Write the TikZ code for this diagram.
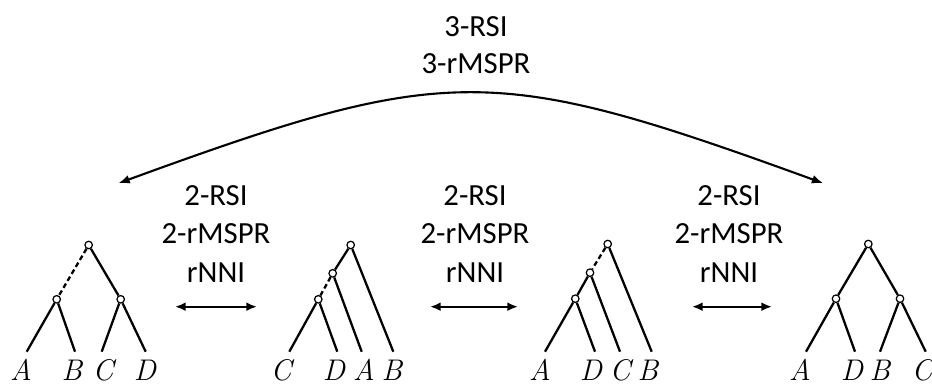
\documentclass[tikz,border=0pt]{standalone}
\usepackage{fontspec}
\newfontfamily\labelfont{Carlito}
\usetikzlibrary{arrows.meta}
\tikzset{
  opname/.style={font=\labelfont\fontsize{17.5}{21}\selectfont, anchor=base, inner sep=0pt},
  taxon/.style={font=\fontsize{17}{20}\selectfont\itshape, anchor=base, inner sep=0pt},
  vtx/.style={circle, draw, fill=white, line width=0.7pt, inner sep=0pt, minimum size=0.15cm},
  branch/.style={line width=1.3pt},
  dbranch/.style={line width=1.3pt, dash pattern=on 2.8pt off 1.8pt},
  swaparrow/.style={line width=1.3pt, {Latex[length=6pt,width=5pt]}-{Latex[length=6pt,width=5pt]}},
  bigarrow/.style={line width=1.2pt, {Latex[length=6.5pt,width=5pt]}-{Latex[length=6.5pt,width=5pt]}},
}
\begin{document}
\begin{tikzpicture}[x=0.02cm, y=-0.02cm]
\useasboundingbox (0,0) rectangle (932,391);

% ---------- tree 1: ((A,B),(C,D)) ----------
\node[vtx] (t1r) at (88.7,245) {};
\node[vtx] (t1l) at (56.7,299.3) {};
\node[vtx] (t1m) at (120.7,299.3) {};
\coordinate (t1A) at (26.7,351.7);
\coordinate (t1B) at (75,351.7);
\coordinate (t1C) at (101.7,351.7);
\coordinate (t1D) at (145.7,351.7);
\draw[dbranch] (t1r) -- (t1l);
\draw[branch] (t1r) -- (t1m);
\draw[branch] (t1l) -- (t1A);
\draw[branch] (t1l) -- (t1B);
\draw[branch] (t1m) -- (t1C);
\draw[branch] (t1m) -- (t1D);
\node[taxon] (t1a) at (21,380.5) {A};
\node[taxon] (t1b) at (72,380.5) {B};
\node[taxon] (t1c) at (103,380.5) {C};
\node[taxon] (t1d) at (145,380.5) {D};

% ---------- tree 2: (((C,D),A),B) ----------
\node[vtx] (t2r) at (350.7,245) {};
\node[vtx] (t2m) at (332.7,273.3) {};
\node[vtx] (t2l) at (318.3,299.3) {};
\coordinate (t2C) at (289.3,351.7);
\coordinate (t2D) at (337.3,351.7);
\coordinate (t2A) at (361.7,351.7);
\coordinate (t2B) at (393.3,351.7);
\draw[branch] (t2r) -- (t2m);
\draw[dbranch] (t2m) -- (t2l);
\draw[branch] (t2l) -- (t2C);
\draw[branch] (t2l) -- (t2D);
\draw[branch] (t2m) -- (t2A);
\draw[branch] (t2r) -- (t2B);
\node[taxon] (t2c) at (281,380.5) {C};
\node[taxon] (t2d) at (334,380.5) {D};
\node[taxon] (t2a) at (364,380.5) {A};
\node[taxon] (t2b) at (392,380.5) {B};

% ---------- tree 3: (((A,D),C),B) ----------
\node[vtx] (t3r) at (607.7,244) {};
\node[vtx] (t3m) at (590,272.7) {};
\node[vtx] (t3l) at (575.3,298.7) {};
\coordinate (t3A) at (545,351.7);
\coordinate (t3D) at (595,351.7);
\coordinate (t3C) at (620,351.7);
\coordinate (t3B) at (651.7,351.7);
\draw[dbranch] (t3r) -- (t3m);
\draw[branch] (t3m) -- (t3l);
\draw[branch] (t3l) -- (t3A);
\draw[branch] (t3l) -- (t3D);
\draw[branch] (t3m) -- (t3C);
\draw[branch] (t3r) -- (t3B);
\node[taxon] (t3a) at (540,380.5) {A};
\node[taxon] (t3d) at (591,380.5) {D};
\node[taxon] (t3c) at (620,380.5) {C};
\node[taxon] (t3b) at (648,380.5) {B};

% ---------- tree 4: ((A,D),(B,C)) ----------
\node[vtx] (t4r) at (868.3,244) {};
\node[vtx] (t4l) at (836,298.7) {};
\node[vtx] (t4m) at (900,298.7) {};
\coordinate (t4A) at (806,351.7);
\coordinate (t4D) at (855,351.7);
\coordinate (t4B) at (880,351.7);
\coordinate (t4C) at (925.7,351.7);
\draw[branch] (t4r) -- (t4l);
\draw[branch] (t4r) -- (t4m);
\draw[branch] (t4l) -- (t4A);
\draw[branch] (t4l) -- (t4D);
\draw[branch] (t4m) -- (t4B);
\draw[branch] (t4m) -- (t4C);
\node[taxon] (t4a) at (800,380.5) {A};
\node[taxon] (t4d) at (852,380.5) {D};
\node[taxon] (t4b) at (880,380.5) {B};
\node[taxon] (t4c) at (922,380.5) {C};

% ---------- moves between neighbouring trees ----------
\node[opname] (m1a) at (216,205.5) {2-RSI};
\node[opname] (m1b) at (216,244) {2-rMSPR};
\node[opname] (m1c) at (216,282.5) {rNNI};
\coordinate (s1l) at (175,306.7);
\coordinate (s1r) at (257,306.7);
\draw[swaparrow] (s1l) -- (s1r);

\node[opname] (m2a) at (475,205.5) {2-RSI};
\node[opname] (m2b) at (475,244) {2-rMSPR};
\node[opname] (m2c) at (475,282.5) {rNNI};
\coordinate (s2l) at (430,306.7);
\coordinate (s2r) at (518,306.7);
\draw[swaparrow] (s2l) -- (s2r);

\node[opname] (m3a) at (729,205.5) {2-RSI};
\node[opname] (m3b) at (729,244) {2-rMSPR};
\node[opname] (m3c) at (729,282.5) {rNNI};
\coordinate (s3l) at (692,306.7);
\coordinate (s3r) at (772,306.7);
\draw[swaparrow] (s3l) -- (s3r);

% ---------- long-range move between the outer trees ----------
\node[opname] (m0a) at (476,36.7) {3-RSI};
\node[opname] (m0b) at (476,73.3) {3-rMSPR};
\coordinate (arcL) at (118.3,183.3);
\coordinate (arcR) at (823.3,183.3);
\draw[bigarrow] (arcL) .. controls (448,63) and (493,63) .. (arcR);
\end{tikzpicture}
\end{document}
